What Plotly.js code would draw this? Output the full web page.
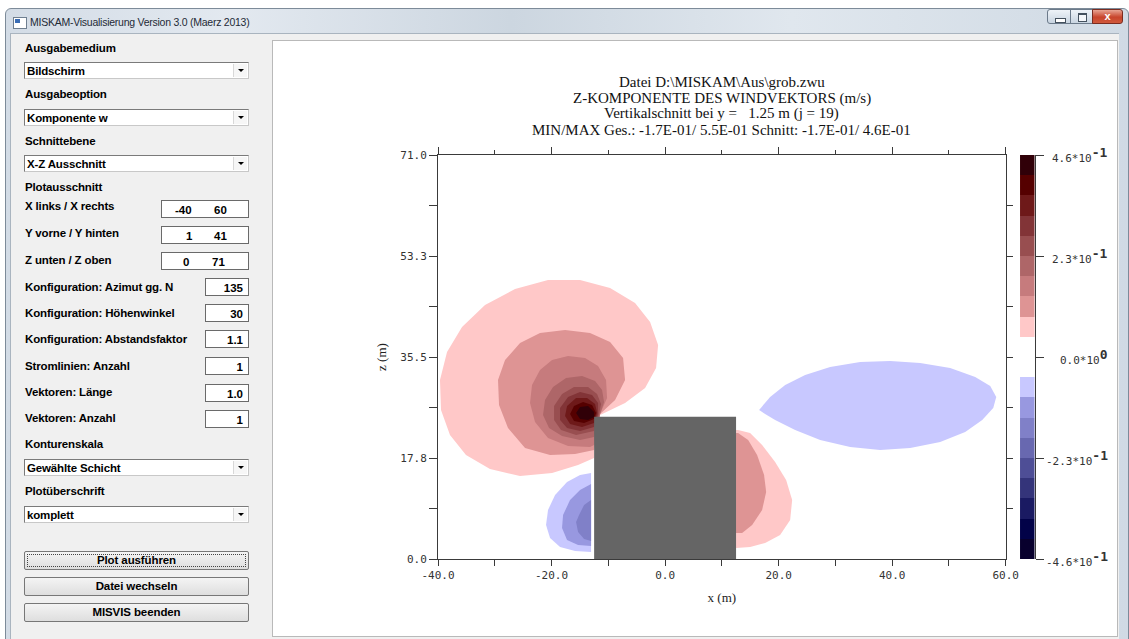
<!DOCTYPE html>
<html>
<head>
<meta charset="utf-8">
<script src="https://cdn.plot.ly/plotly-3.0.1.min.js"></script>
<style>
  html, body { margin:0; padding:0; }
  body { width:1129px; height:639px; position:relative; overflow:hidden; background:#ffffff; font-family:"Liberation Sans", Arial, sans-serif; }
  .abs { position:absolute; }
  #frame { left:5px; top:8px; width:1124px; height:640px; background:linear-gradient(90deg,#d3dce6 0%,#e3e9f0 20%,#ccd6e0 45%,#e0e7ee 70%,#d0dae4 100%); border:1px solid #7d8b99; border-radius:6px 6px 0 0; box-sizing:border-box; }
  #titletext { left:30px; top:16px; font-size:10.5px; color:#1e2a36; letter-spacing:-0.25px; white-space:nowrap; font-family:"Liberation Sans", Arial, sans-serif; }
  #icon { left:13px; top:17px; width:12px; height:10px; background:#ffffff; border:1px solid #6f7f90; }
  #icon div { position:absolute; left:1px; top:1px; width:5px; height:4px; background:#3a6cb4; }
  .ctl { top:9px; height:15px; border:1px solid #6b7a8a; box-sizing:border-box; background:linear-gradient(#eef3f8,#c9d5e1); }
  #client { left:10px; top:33px; width:1109px; height:610px; background:#f0f0f0; border-left:1px solid #a9b4bf; border-top:1px solid #a9b4bf; box-sizing:border-box; }
  #plotpanel { left:272px; top:40px; width:846px; height:597px; background:#ffffff; border:1px solid #b9b9b9; box-sizing:border-box; }
  .lbl { font-weight:bold; font-size:11.5px; letter-spacing:-0.15px; color:#000; white-space:nowrap; line-height:12px; }
  .dd { left:24px; width:225px; height:17px; background:#fff; border:1px solid #7a7a7a; border-right-color:#c8c8c8; border-bottom-color:#c8c8c8; box-sizing:border-box; }
  .dd .t { position:absolute; left:2px; top:2px; font-weight:bold; font-size:11.5px; letter-spacing:-0.15px; line-height:12px; }
  .dd .b { position:absolute; right:1px; top:1px; width:14px; height:13px; background:#f6f6f6; border-left:1px solid #d8d8d8; box-sizing:border-box; }
  .dd .b div { position:absolute; left:4px; top:5px; width:0; height:0; border-left:3px solid transparent; border-right:3px solid transparent; border-top:3px solid #000; }
  .tb { height:18px; background:#fff; border:1px solid #6a6a6a; box-sizing:border-box; }
  .tb span { position:absolute; top:3px; font-weight:bold; font-size:11.5px; line-height:12px; }
  .btn { left:24px; width:225px; height:19px; background:linear-gradient(#f4f4f4,#dedede); border:1px solid #777; border-radius:2px; box-sizing:border-box; text-align:center; font-weight:bold; font-size:11.5px; line-height:17px; letter-spacing:-0.1px; }
  #chart { left:0; top:0; width:1129px; height:639px; }
</style>
</head>
<body>
<div id="frame" class="abs"></div>
<div id="icon" class="abs"><div></div></div>
<div id="titletext" class="abs">MISKAM-Visualisierung Version 3.0 (Maerz 2013)</div>
<div class="abs ctl" style="left:1047px;width:24px;border-radius:3px 0 0 3px;"><div style="position:absolute;left:7px;top:8px;width:9px;height:3px;background:#fff;border:1px solid #44515e;"></div></div>
<div class="abs ctl" style="left:1070px;width:23px;"><div style="position:absolute;left:7px;top:3px;width:7px;height:6px;border:1px solid #44515e;border-top-width:2px;background:#f4f7fa;"></div></div>
<div class="abs ctl" style="left:1092px;width:31px;border-radius:0 3px 3px 0;background:linear-gradient(#e8a493,#c8452c 55%,#d0593c);border-color:#7a2c20;"><div style="position:absolute;left:0;top:-1px;width:29px;text-align:center;color:#fff;font-weight:bold;font-size:11px;line-height:14px;">x</div></div>
<div id="client" class="abs"></div>
<div id="plotpanel" class="abs"></div>

<div class="abs lbl" style="left:25px;top:42px;">Ausgabemedium</div>
<div class="abs dd" style="top:62px;"><div class="t">Bildschirm</div><div class="b"><div></div></div></div>
<div class="abs lbl" style="left:25px;top:88px;">Ausgabeoption</div>
<div class="abs dd" style="top:109px;"><div class="t">Komponente w</div><div class="b"><div></div></div></div>
<div class="abs lbl" style="left:25px;top:135px;">Schnittebene</div>
<div class="abs dd" style="top:155px;"><div class="t">X-Z Ausschnitt</div><div class="b"><div></div></div></div>
<div class="abs lbl" style="left:25px;top:181px;">Plotausschnitt</div>

<div class="abs lbl" style="left:25px;top:200px;">X links / X rechts</div>
<div class="abs tb" style="left:161px;top:200px;width:88px;"><span style="left:13px;">-40</span><span style="left:52px;">60</span></div>
<div class="abs lbl" style="left:25px;top:227px;">Y vorne / Y hinten</div>
<div class="abs tb" style="left:161px;top:226px;width:88px;"><span style="left:24px;">1</span><span style="left:52px;">41</span></div>
<div class="abs lbl" style="left:25px;top:254px;">Z unten / Z oben</div>
<div class="abs tb" style="left:161px;top:252px;width:88px;"><span style="left:21px;">0</span><span style="left:50px;">71</span></div>

<div class="abs lbl" style="left:25px;top:281px;">Konfiguration: Azimut gg. N</div>
<div class="abs tb" style="left:205px;top:278px;width:44px;"><span style="right:5px;">135</span></div>
<div class="abs lbl" style="left:25px;top:307px;">Konfiguration: Höhenwinkel</div>
<div class="abs tb" style="left:205px;top:304px;width:44px;"><span style="right:5px;">30</span></div>
<div class="abs lbl" style="left:25px;top:333px;">Konfiguration: Abstandsfaktor</div>
<div class="abs tb" style="left:205px;top:330px;width:44px;"><span style="right:5px;">1.1</span></div>
<div class="abs lbl" style="left:25px;top:360px;">Stromlinien: Anzahl</div>
<div class="abs tb" style="left:205px;top:357px;width:44px;"><span style="right:5px;">1</span></div>
<div class="abs lbl" style="left:25px;top:386px;">Vektoren: Länge</div>
<div class="abs tb" style="left:205px;top:384px;width:44px;"><span style="right:5px;">1.0</span></div>
<div class="abs lbl" style="left:25px;top:412px;">Vektoren: Anzahl</div>
<div class="abs tb" style="left:205px;top:410px;width:44px;"><span style="right:5px;">1</span></div>

<div class="abs lbl" style="left:25px;top:438px;">Konturenskala</div>
<div class="abs dd" style="top:459px;"><div class="t">Gewählte Schicht</div><div class="b"><div></div></div></div>
<div class="abs lbl" style="left:25px;top:485px;">Plotüberschrift</div>
<div class="abs dd" style="top:506px;"><div class="t">komplett</div><div class="b"><div></div></div></div>

<div class="abs btn" style="top:551px;"><div style="position:absolute;left:2px;top:2px;right:2px;bottom:2px;border:1px dotted #444;"></div>Plot ausführen</div>
<div class="abs btn" style="top:577px;">Datei wechseln</div>
<div class="abs btn" style="top:603px;">MISVIS beenden</div>

<div id="chart" class="abs"></div>

<script>
// ---------- title lines ----------
const titleLines = [
  'Datei D:\\MISKAM\\Aus\\grob.zwu',
  'Z-KOMPONENTE DES WINDVEKTORS (m/s)',
  'Vertikalschnitt bei y =\u00a0\u00a0\u00a01.25 m (j = 19)',
  'MIN/MAX Ges.: -1.7E-01/ 5.5E-01 Schnitt: -1.7E-01/ 4.6E-01'
];

// ---------- axis ticks ----------
const xMajor = [-40, -20, 0, 20, 40, 60];
const xMajorText = ['-40.0', '-20.0', '0.0', '20.0', '40.0', '60.0'];
const xMinor = [-30, -10, 10, 30, 50];
const zMajor = [0, 17.75, 35.5, 53.25, 71];
const zMajorText = ['0.0', '17.8', '35.5', '53.3', '71.0'];
const zMinor = [8.875, 26.625, 44.375, 62.125];
const zRightTicks = [8.875, 17.75, 26.625, 35.5, 44.375, 53.25, 62.125];

// ---------- colour scale (20 classes of 0.046 m/s) ----------
const levelLower = [-0.460, -0.414, -0.368, -0.322, -0.276, -0.230, -0.184, -0.138, -0.092, -0.046,
                     0.000,  0.046,  0.092,  0.138,  0.184,  0.230,  0.276,  0.322,  0.368,  0.414];
const levelUpper = [-0.414, -0.368, -0.322, -0.276, -0.230, -0.184, -0.138, -0.092, -0.046, 0.000,
                     0.046,  0.092,  0.138,  0.184,  0.230,  0.276,  0.322,  0.368,  0.414,  0.460];
const levelColors = ['rgb(8,0,45)', 'rgb(2,2,72)', 'rgb(26,26,98)', 'rgb(52,52,122)', 'rgb(78,78,150)',
                     'rgb(104,104,176)', 'rgb(128,128,200)', 'rgb(152,152,224)', 'rgb(200,200,255)', 'rgba(255,255,255,0)',
                     'rgba(255,255,255,0)', 'rgb(255,200,200)', 'rgb(222,148,148)', 'rgb(198,123,125)', 'rgb(174,102,104)',
                     'rgb(152,78,80)', 'rgb(130,52,55)', 'rgb(110,25,25)', 'rgb(85,0,0)', 'rgb(48,0,8)'];
const cbTickVals = [0.46, 0.23, 0.0, -0.23, -0.46];
const cbMantissa = ['4.6', '2.3', '0.0', '-2.3', '-4.6'];
const cbExponent = ['-1', '-1', '0', '-1', '-1'];

// ---------- contour areas (x in m, z in m) ----------
const up1X = [-11.81,-7.05,-3.52,-1.59,-1.23,-2.64,-5.29,-9.69,-14.98,-20.62,-26.43,-31.72,-35.77,-38.41,-39.65,-39.47,-37.89,-35.07,-30.84,-25.55,-19.91,-15.33,-12.51,-12.5];
const up1Y = [25.13,27.42,30.05,33.57,37.61,41.65,44.99,47.63,49.03,49.03,47.45,44.64,40.77,36.38,31.46,26.19,21.79,18.28,15.82,14.59,15.11,16.52,17.75,25.0];
const up2X = [-11.45,-8.81,-7.05,-7.40,-9.69,-13.22,-17.62,-22.03,-25.55,-28.19,-29.43,-29.25,-27.67,-24.67,-20.26,-15.86,-12.51];
const up2Y = [25.48,27.94,31.46,35.33,38.14,39.72,40.25,39.72,37.96,34.97,31.46,27.07,23.02,19.50,18.28,18.45,19.15];
const up3X = [-11.45,-10.22,-10.40,-11.81,-14.10,-17.09,-19.91,-22.03,-23.44,-23.79,-22.91,-20.62,-17.09,-13.22,-12.51];
const up3Y = [25.48,28.30,31.46,33.92,35.33,35.68,34.97,33.22,30.58,27.42,24.08,21.27,19.86,19.68,20.04];
const up4X = [-11.45,-10.75,-11.10,-12.33,-14.63,-17.44,-19.74,-21.15,-21.50,-20.44,-18.15,-14.98,-12.51];
const up4Y = [25.48,27.59,29.70,31.28,32.16,31.81,30.23,27.94,25.31,23.02,21.62,20.91,21.44];
const up5X = [-11.63,-11.28,-11.98,-13.57,-16.04,-18.15,-19.56,-19.56,-18.33,-15.68,-12.51];
const up5Y = [25.48,27.24,29.00,30.23,30.23,29.00,26.89,24.43,22.67,21.79,22.50];
const up6X = [-11.81,-11.81,-12.86,-14.98,-17.09,-18.50,-18.50,-17.27,-14.98,-12.51];
const up6Y = [25.48,27.42,28.82,29.35,28.47,26.54,24.43,23.02,22.50,23.20];
const up7X = [-11.98,-12.33,-13.74,-15.68,-17.27,-17.62,-16.74,-14.63,-12.51];
const up7Y = [25.66,27.24,28.30,28.30,26.89,25.13,23.73,23.20,23.90];
const up8X = [-12.16,-12.86,-14.45,-16.04,-16.74,-16.04,-14.27,-12.51];
const up8Y = [25.66,27.07,27.59,26.89,25.48,24.25,23.90,24.60];
const up9X = [-12.51,-13.57,-14.98,-15.68,-14.98,-13.57,-12.51];
const up9Y = [25.84,26.89,26.71,25.66,24.60,24.43,24.96];

const frontNeg1X = [-13.04,-14.98,-17.27,-19.38,-20.62,-20.97,-20.26,-18.50,-15.86,-13.04];
const frontNeg1Y = [15.11,14.76,13.53,11.25,8.61,5.98,3.69,2.11,1.41,1.23];
const frontNeg2X = [-13.04,-14.98,-16.74,-17.97,-18.15,-17.27,-15.33,-13.04];
const frontNeg2Y = [13.18,12.13,10.37,7.73,5.45,3.34,2.46,2.28];
const frontNeg3X = [-13.04,-14.27,-15.15,-15.68,-15.33,-14.27,-13.04];
const frontNeg3Y = [10.37,9.49,7.73,6.50,4.75,3.51,3.16];

const leePos1X = [12.5,12.86,14.98,17.09,19.38,21.32,22.38,22.03,20.26,17.62,14.98,13.22,12.5];
const leePos1Y = [22.67,22.67,22.14,20.04,17.05,13.88,10.37,6.85,4.22,2.81,2.11,1.93,1.93];
const leePos2X = [12.5,12.86,14.63,16.21,17.44,17.80,17.09,15.33,13.57,12.5];
const leePos2Y = [22.14,22.14,20.91,18.28,14.76,11.78,8.61,5.98,4.57,4.57];

const wakeNegX = [16.56,18.50,21.15,24.67,29.07,34.36,39.65,44.93,50.22,54.63,57.27,58.33,57.80,55.86,52.86,48.46,43.17,37.89,32.60,27.31,22.91,19.38,17.62];
const wakeNegY = [26.19,28.47,30.58,32.34,33.74,34.62,34.80,34.45,33.57,31.99,30.40,28.47,26.54,24.43,22.32,20.56,19.51,19.16,19.68,20.91,22.67,24.43,25.48];

const buildingX = [-12.5, 12.5, 12.5, -12.5];
const buildingY = [0, 0, 25, 25];

// ---------- traces ----------
function area(xs, ys, color) {
  return {type:'scatter', x:xs, y:ys, mode:'lines', fill:'toself', fillcolor:color,
          line:{width:0, color:color}, hoverinfo:'skip', showlegend:false, xaxis:'x', yaxis:'y'};
}
const C = levelColors;
const data = [
  area(up1X, up1Y, C[11]), area(up2X, up2Y, C[12]), area(up3X, up3Y, C[13]),
  area(up4X, up4Y, C[14]), area(up5X, up5Y, C[15]), area(up6X, up6Y, C[16]),
  area(up7X, up7Y, C[17]), area(up8X, up8Y, C[18]), area(up9X, up9Y, C[19]),
  area(frontNeg1X, frontNeg1Y, C[8]), area(frontNeg2X, frontNeg2Y, C[7]), area(frontNeg3X, frontNeg3Y, C[6]),
  area(leePos1X, leePos1Y, C[11]), area(leePos2X, leePos2Y, C[12]),
  area(wakeNegX, wakeNegY, C[8]),
  area(buildingX, buildingY, 'rgb(101,101,101)'),
  {type:'scatter', x:[], y:[], xaxis:'x2', yaxis:'y', hoverinfo:'skip', showlegend:false},
  {type:'scatter', x:[], y:[], xaxis:'x', yaxis:'y2', hoverinfo:'skip', showlegend:false},
  {type:'bar', x:levelLower.map(() => 'scale'), y:levelUpper.map((u, i) => u - levelLower[i]),
   base:levelLower, width:1, marker:{color:levelColors, line:{width:0}},
   xaxis:'x3', yaxis:'y3', hoverinfo:'skip', showlegend:false}
];

const tickFont = {family:'DejaVu Sans Mono, monospace', size:11, color:'#333'};
const axisCol = '#3a3a3a';
const mainDomain = [0, 0.8576];

const titleY = [82, 98, 114, 130];
const titleAnns = titleLines.map((t, i) => ({
  xref:'paper', x:0.4288, xanchor:'center',
  yref:'paper', y:(559 - titleY[i]) / 404, yanchor:'middle',
  text:t, showarrow:false,
  font:{family:'Liberation Serif, serif', size:15, color:'#111'}
}));
const cbAnns = cbTickVals.map((v, i) => ({
  xref:'paper', x:1.0155, xanchor:'right', yref:'y3', y:v, yanchor:'middle',
  text:cbMantissa[i] + '*10<sup><span style="font-size:13px;font-weight:bold">' + cbExponent[i] + '</span></sup>',
  showarrow:false,
  font:{family:'DejaVu Sans Mono, monospace', size:11, color:'#333'}
}));

const layout = {
  width:1129, height:639,
  margin:{l:438, r:29, t:155, b:80, pad:0},
  paper_bgcolor:'rgba(0,0,0,0)', plot_bgcolor:'rgba(0,0,0,0)',
  showlegend:false, bargap:0,
  xaxis:{
    domain:mainDomain, range:[-40, 60], anchor:'y',
    tickmode:'array', tickvals:xMajor, ticktext:xMajorText,
    ticks:'outside', ticklen:6, tickwidth:1, tickcolor:axisCol,
    minor:{tickmode:'array', tickvals:xMinor, ticks:'outside', ticklen:6, tickwidth:1, tickcolor:axisCol, showgrid:false},
    showline:true, linecolor:axisCol, linewidth:1, showgrid:false, zeroline:false,
    tickfont:tickFont, fixedrange:true,
    title:{text:'x (m)', font:{family:'Liberation Serif, serif', size:13, color:'#222'}, standoff:11}
  },
  xaxis2:{
    overlaying:'x', side:'top', anchor:'y', range:[-40, 60],
    tickmode:'array', tickvals:xMajor, ticks:'outside', ticklen:7, tickwidth:1, tickcolor:axisCol,
    minor:{tickmode:'array', tickvals:xMinor, ticks:'outside', ticklen:4, tickwidth:1, tickcolor:axisCol, showgrid:false},
    showticklabels:false, showline:true, linecolor:axisCol, linewidth:1, showgrid:false, zeroline:false, fixedrange:true
  },
  yaxis:{
    domain:[0, 1], range:[0, 71], anchor:'x',
    tickmode:'array', tickvals:zMajor, ticktext:zMajorText,
    ticks:'outside', ticklen:8, tickwidth:1, tickcolor:axisCol,
    minor:{tickmode:'array', tickvals:zMinor, ticks:'outside', ticklen:8, tickwidth:1, tickcolor:axisCol, showgrid:false},
    showline:true, linecolor:axisCol, linewidth:1, showgrid:false, zeroline:false,
    tickfont:tickFont, fixedrange:true,
    title:{text:'z (m)', font:{family:'Liberation Serif, serif', size:13, color:'#222'}, standoff:10}
  },
  yaxis2:{
    overlaying:'y', side:'right', anchor:'x', range:[0, 71],
    tickmode:'array', tickvals:zRightTicks, ticks:'outside', ticklen:6, tickwidth:1, tickcolor:axisCol,
    showticklabels:false, showline:true, linecolor:axisCol, linewidth:1, showgrid:false, zeroline:false, fixedrange:true
  },
  xaxis3:{
    domain:[0.8792, 0.9011], anchor:'y3', type:'category', range:[-0.5, 0.5],
    visible:false, fixedrange:true
  },
  yaxis3:{
    domain:[0, 1], anchor:'x3', side:'right', range:[-0.46, 0.46],
    tickmode:'array', tickvals:cbTickVals, showticklabels:false,
    ticks:'outside', ticklen:8, tickwidth:1, tickcolor:axisCol,
    showline:true, linecolor:axisCol, linewidth:1, layer:'below traces',
    showgrid:false, zeroline:false, fixedrange:true
  },
  annotations: titleAnns.concat(cbAnns)
};

Plotly.newPlot('chart', data, layout, {staticPlot:true, displayModeBar:false});
</script>
</body>
</html>
